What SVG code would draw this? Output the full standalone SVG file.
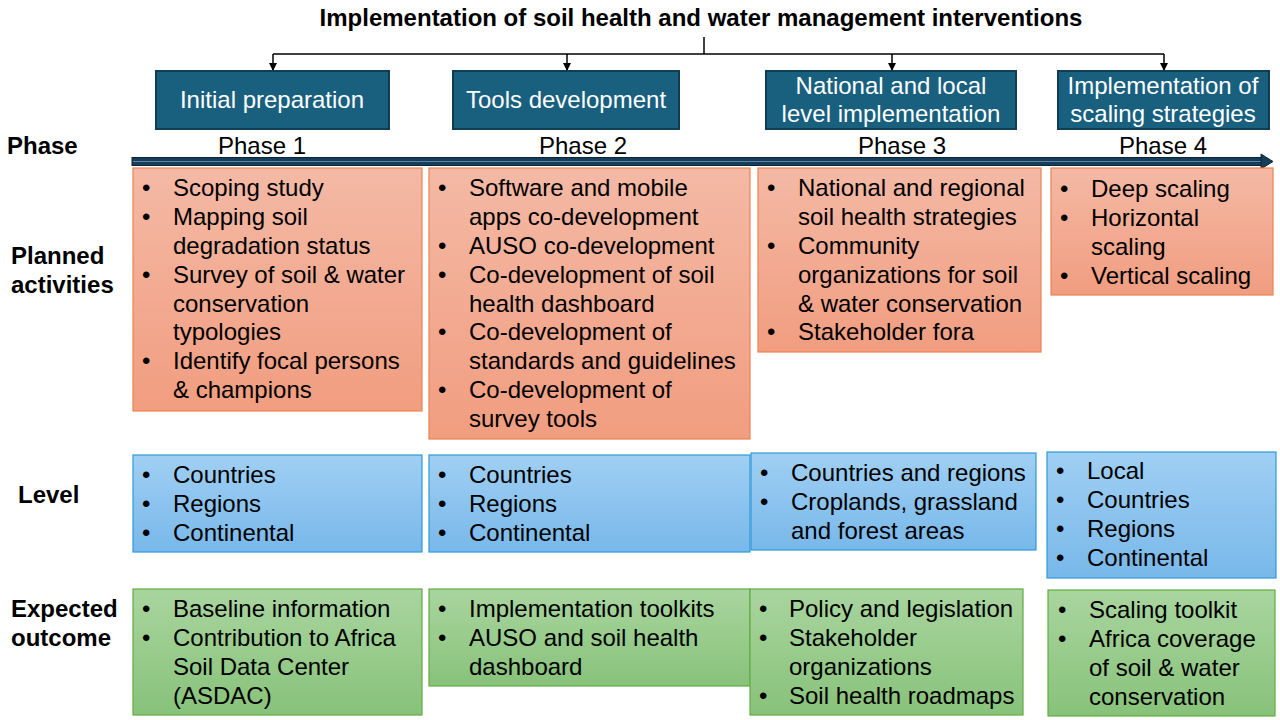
<svg xmlns="http://www.w3.org/2000/svg" width="1280" height="720" viewBox="0 0 1280 720">
<style>
.t{font-family:"Liberation Sans",Arial,sans-serif;font-size:24px;fill:#000}
.bd{font-family:"Liberation Sans",Arial,sans-serif;font-size:24px;font-weight:bold;fill:#000}
.w{font-family:"Liberation Sans",Arial,sans-serif;font-size:24px;fill:#fff}
.ph{fill:#19607f;stroke:#0f3d54;stroke-width:2}
.or{fill:url(#gO);stroke:#ee8152;stroke-width:1.2}
.bl{fill:url(#gB);stroke:#2f9ad8;stroke-width:1.2}
.gr{fill:url(#gG);stroke:#62ac42;stroke-width:1.2}
.cn{fill:none;stroke:#000;stroke-width:1.5}
</style>
<defs>
<linearGradient id="gO" x1="0" y1="0" x2="0" y2="1"><stop offset="0" stop-color="#f4b9a5"/><stop offset="1" stop-color="#f19d80"/></linearGradient>
<linearGradient id="gB" x1="0" y1="0" x2="0" y2="1"><stop offset="0" stop-color="#a0cff3"/><stop offset="1" stop-color="#78b8ea"/></linearGradient>
<linearGradient id="gG" x1="0" y1="0" x2="0" y2="1"><stop offset="0" stop-color="#a9d59f"/><stop offset="1" stop-color="#88c27a"/></linearGradient>
<marker id="ah" markerWidth="8" markerHeight="8" refX="7" refY="4" orient="auto" markerUnits="userSpaceOnUse"><path d="M0,0 L8,4 L0,8 Z" fill="#000"/></marker>
</defs>
<rect width="1280" height="720" fill="#fff"/>

<text id="title" class="bd" x="701" y="26" text-anchor="middle">Implementation of soil health and water management interventions</text>

<g id="connectors">
<path class="cn" d="M704,37 V54"/>
<path class="cn" d="M273,54 H1164"/>
<path class="cn" d="M273,54 V70" marker-end="url(#ah)"/>
<path class="cn" d="M567,54 V70" marker-end="url(#ah)"/>
<path class="cn" d="M892,54 V70" marker-end="url(#ah)"/>
<path class="cn" d="M1164,54 V70" marker-end="url(#ah)"/>
</g>

<g id="phase-box-1"><rect class="ph" x="156" y="71" width="233" height="58"/><text class="w" x="272" y="108" text-anchor="middle">Initial preparation</text></g>
<g id="phase-box-2"><rect class="ph" x="453" y="71" width="226" height="58"/><text class="w" x="566" y="108" text-anchor="middle">Tools development</text></g>
<g id="phase-box-3"><rect class="ph" x="766" y="71" width="250" height="58"/><text class="w" x="891" y="94" text-anchor="middle">National and local</text><text class="w" x="891" y="122" text-anchor="middle">level implementation</text></g>
<g id="phase-box-4"><rect class="ph" x="1058" y="71" width="211" height="58"/><text class="w" x="1163" y="94" text-anchor="middle">Implementation of</text><text class="w" x="1163" y="122" text-anchor="middle">scaling strategies</text></g>

<g id="row-labels">
<text class="bd" x="7" y="154">Phase</text>
<text class="bd" x="11" y="264">Planned</text>
<text class="bd" x="11" y="293">activities</text>
<text class="bd" x="18" y="503">Level</text>
<text class="bd" x="11" y="617">Expected</text>
<text class="bd" x="11" y="646">outcome</text>
</g>

<g id="timeline">
<rect x="132" y="157.5" width="1131" height="8" fill="#163d5a" stroke="#0c2638" stroke-width="1"/>
<line x1="133" y1="161.5" x2="1262" y2="161.5" stroke="#5d86a6" stroke-width="1.2"/>
<path d="M1261,154 L1273,161.5 L1261,169 Z" fill="#163d5a" stroke="#0c2638" stroke-width="1"/>
<text class="t" x="262" y="154" text-anchor="middle">Phase 1</text>
<text class="t" x="583" y="154" text-anchor="middle">Phase 2</text>
<text class="t" x="902" y="154" text-anchor="middle">Phase 3</text>
<text class="t" x="1163" y="154" text-anchor="middle">Phase 4</text>
</g>

<g id="activities-1"><rect class="or" x="133" y="168" width="289" height="243"/>
<text class="t"><tspan x="142" y="196">•</tspan><tspan x="173" y="196">Scoping study</tspan><tspan x="142" y="225">•</tspan><tspan x="173" y="225">Mapping soil</tspan><tspan x="173" y="254">degradation status</tspan><tspan x="142" y="283">•</tspan><tspan x="173" y="283">Survey of soil &amp; water</tspan><tspan x="173" y="312">conservation</tspan><tspan x="173" y="340">typologies</tspan><tspan x="142" y="369">•</tspan><tspan x="173" y="369">Identify focal persons</tspan><tspan x="173" y="398">&amp; champions</tspan></text></g>

<g id="activities-2"><rect class="or" x="429" y="168" width="321" height="271"/>
<text class="t"><tspan x="438" y="196">•</tspan><tspan x="469" y="196">Software and mobile</tspan><tspan x="469" y="225">apps co-development</tspan><tspan x="438" y="254">•</tspan><tspan x="469" y="254">AUSO co-development</tspan><tspan x="438" y="283">•</tspan><tspan x="469" y="283">Co-development of soil</tspan><tspan x="469" y="312">health dashboard</tspan><tspan x="438" y="340">•</tspan><tspan x="469" y="340">Co-development of</tspan><tspan x="469" y="369">standards and guidelines</tspan><tspan x="438" y="398">•</tspan><tspan x="469" y="398">Co-development of</tspan><tspan x="469" y="427">survey tools</tspan></text></g>

<g id="activities-3"><rect class="or" x="758" y="168" width="283" height="184"/>
<text class="t"><tspan x="767" y="196">•</tspan><tspan x="798" y="196">National and regional</tspan><tspan x="798" y="225">soil health strategies</tspan><tspan x="767" y="254">•</tspan><tspan x="798" y="254">Community</tspan><tspan x="798" y="283">organizations for soil</tspan><tspan x="798" y="312">&amp; water conservation</tspan><tspan x="767" y="340">•</tspan><tspan x="798" y="340">Stakeholder fora</tspan></text></g>

<g id="activities-4"><rect class="or" x="1051" y="168" width="222" height="127"/>
<text class="t"><tspan x="1060" y="197">•</tspan><tspan x="1091" y="197">Deep scaling</tspan><tspan x="1060" y="226">•</tspan><tspan x="1091" y="226">Horizontal</tspan><tspan x="1091" y="255">scaling</tspan><tspan x="1060" y="284">•</tspan><tspan x="1091" y="284">Vertical scaling</tspan></text></g>

<g id="level-1"><rect class="bl" x="133" y="455" width="289" height="97"/>
<text class="t"><tspan x="142" y="483">•</tspan><tspan x="173" y="483">Countries</tspan><tspan x="142" y="512">•</tspan><tspan x="173" y="512">Regions</tspan><tspan x="142" y="541">•</tspan><tspan x="173" y="541">Continental</tspan></text></g>

<g id="level-2"><rect class="bl" x="429" y="455" width="321" height="97"/>
<text class="t"><tspan x="438" y="483">•</tspan><tspan x="469" y="483">Countries</tspan><tspan x="438" y="512">•</tspan><tspan x="469" y="512">Regions</tspan><tspan x="438" y="541">•</tspan><tspan x="469" y="541">Continental</tspan></text></g>

<g id="level-3"><rect class="bl" x="751" y="453" width="285" height="97"/>
<text class="t"><tspan x="760" y="481">•</tspan><tspan x="791" y="481">Countries and regions</tspan><tspan x="760" y="510">•</tspan><tspan x="791" y="510">Croplands, grassland</tspan><tspan x="791" y="539">and forest areas</tspan></text></g>

<g id="level-4"><rect class="bl" x="1047" y="452" width="229" height="126"/>
<text class="t"><tspan x="1056" y="479">•</tspan><tspan x="1087" y="479">Local</tspan><tspan x="1056" y="508">•</tspan><tspan x="1087" y="508">Countries</tspan><tspan x="1056" y="537">•</tspan><tspan x="1087" y="537">Regions</tspan><tspan x="1056" y="566">•</tspan><tspan x="1087" y="566">Continental</tspan></text></g>

<g id="outcome-1"><rect class="gr" x="133" y="589" width="289" height="126"/>
<text class="t"><tspan x="142" y="617">•</tspan><tspan x="173" y="617">Baseline information</tspan><tspan x="142" y="646">•</tspan><tspan x="173" y="646">Contribution to Africa</tspan><tspan x="173" y="675">Soil Data Center</tspan><tspan x="173" y="704">(ASDAC)</tspan></text></g>

<g id="outcome-2"><rect class="gr" x="429" y="589" width="321" height="97"/>
<text class="t"><tspan x="438" y="617">•</tspan><tspan x="469" y="617">Implementation toolkits</tspan><tspan x="438" y="646">•</tspan><tspan x="469" y="646">AUSO and soil health</tspan><tspan x="469" y="675">dashboard</tspan></text></g>

<g id="outcome-3"><rect class="gr" x="750" y="589" width="273" height="126"/>
<text class="t"><tspan x="759" y="617">•</tspan><tspan x="789" y="617">Policy and legislation</tspan><tspan x="759" y="646">•</tspan><tspan x="789" y="646">Stakeholder</tspan><tspan x="789" y="675">organizations</tspan><tspan x="759" y="704">•</tspan><tspan x="789" y="704">Soil health roadmaps</tspan></text></g>

<g id="outcome-4"><rect class="gr" x="1048" y="590" width="227" height="126"/>
<text class="t"><tspan x="1058" y="618">•</tspan><tspan x="1089" y="618">Scaling toolkit</tspan><tspan x="1058" y="647">•</tspan><tspan x="1089" y="647">Africa coverage</tspan><tspan x="1089" y="676">of soil &amp; water</tspan><tspan x="1089" y="705">conservation</tspan></text></g>
</svg>
